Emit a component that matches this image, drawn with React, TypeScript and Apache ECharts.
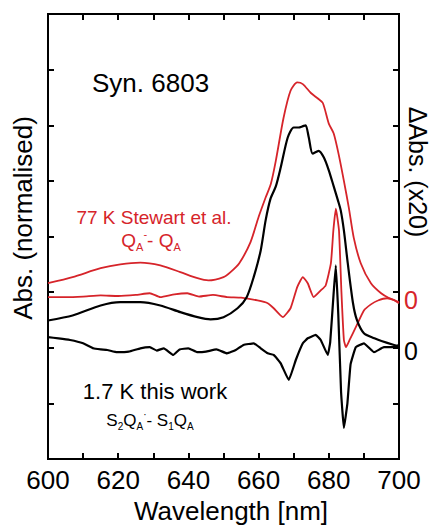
import React, { useEffect, useRef } from 'react';
import * as echarts from 'echarts';

// Red: 77 K absorption (Stewart et al.)
const redAbsWl = [600, 607, 615, 620.6, 626.3, 632, 637.7, 642.6, 645.7, 650, 652, 654.5, 657.7, 660, 662, 663.5, 664.9, 667.1, 669.1, 671, 672.6, 674.9, 676.9, 678.3, 680, 681.4, 682.9, 684.3, 685.7, 687.1, 689.1, 692, 694.9, 697, 700];
const redAbs = [3.16, 3.27, 3.43, 3.5, 3.53, 3.48, 3.36, 3.25, 3.21, 3.27, 3.36, 3.52, 3.9, 4.35, 4.7, 4.95, 5.36, 6.13, 6.62, 6.77, 6.74, 6.58, 6.48, 6.4, 6.03, 5.85, 5.45, 5.0, 4.52, 3.98, 3.52, 3.16, 2.98, 2.9, 2.82];

// Black: 1.7 K absorption (this work)
const blackAbsWl = [600, 607, 615, 620.6, 626.3, 632, 637.7, 642.6, 646.3, 650, 654, 656.6, 658.6, 660.6, 662, 663.4, 664.9, 666.3, 668.3, 670, 671.4, 672.5, 673.4, 674.3, 675.4, 677.1, 678.6, 680, 681.4, 682.6, 683.4, 684.3, 685.4, 686.9, 688, 690, 693, 695, 698.6, 700];
const blackAbs = [2.49, 2.58, 2.76, 2.82, 2.82, 2.76, 2.64, 2.55, 2.51, 2.55, 2.71, 2.91, 3.27, 3.75, 4.29, 4.68, 4.9, 5.24, 5.78, 5.96, 5.96, 5.98, 6.0, 5.78, 5.49, 5.54, 5.42, 5.19, 4.9, 4.65, 4.47, 4.11, 3.52, 2.8, 2.5, 2.26, 2.17, 2.12, 2.05, 2.03];

// Red: 77 K QA- - QA difference (x20)
const redDiffWl = [600, 605, 610, 615, 620, 625, 629, 632, 636, 639.7, 643, 647, 651, 655, 659.7, 662.6, 664.3, 666.9, 669.1, 671, 672.6, 674, 675.7, 677.7, 679.1, 680.6, 681.3, 682, 682.9, 683.6, 684.3, 684.9, 686, 687.7, 690, 692, 694, 696.6, 698.5, 700];
const redDiff = [2.91, 2.91, 2.92, 2.94, 2.93, 2.95, 2.98, 2.91, 2.96, 2.98, 2.92, 2.95, 2.91, 2.9, 2.85, 2.8, 2.71, 2.55, 2.71, 3.09, 3.27, 3.16, 2.91, 3.03, 3.12, 3.52, 4.11, 4.5, 4.11, 3.0, 2.14, 2.01, 2.15, 2.37, 2.67, 2.78, 2.85, 2.89, 2.86, 2.8];

// Black: 1.7 K S2QA- - S1QA difference (x20)
const blackDiffWl = [600, 603, 606.3, 610, 612.9, 615, 616.9, 619.7, 623, 626.3, 629, 631, 633, 635.7, 637.5, 640, 642.6, 645, 648, 651, 653.5, 655.7, 658.6, 660.6, 662.6, 664.3, 666.3, 668.6, 670.6, 672.6, 674, 676.3, 677.7, 679.7, 680.4, 681.4, 682, 682.7, 683.5, 684.3, 685.3, 686.2, 687.7, 690, 692.9, 695.7, 698.6, 700];
const blackDiff = [2.19, 2.17, 2.14, 2.08, 1.99, 1.97, 1.96, 1.92, 1.93, 1.99, 2.01, 1.95, 1.99, 1.87, 1.97, 1.99, 1.92, 1.93, 1.97, 1.9, 1.96, 2.05, 2.08, 1.99, 1.9, 1.87, 1.72, 1.42, 1.78, 2.08, 2.17, 2.23, 2.14, 1.87, 2.1, 3.0, 3.48, 2.6, 1.2, 0.56, 1.0, 1.7, 2.01, 2.08, 1.92, 2.01, 2.01, 2.05];

const xMin = 600;
const xMax = 700;
const yMin = 0;
const yMax = 8;

const RED = '#d6242a';
const FONT = '"Liberation Sans", Arial, Helvetica, sans-serif';

const W = 433;
const H = 527;

const zip = (xs: number[], ys: number[]) => xs.map((x, i) => [x, ys[i]]);

export default function App() {
  const ref = useRef<HTMLDivElement>(null);
  useEffect(() => {
    if (!ref.current) return;
    const chart = echarts.init(ref.current, undefined, { renderer: 'svg' });
    const mkLine = () => ({ show: true, onZero: false, lineStyle: { color: '#000', width: 2 } });
    const mkTick = () => ({ show: true, inside: true, length: 6, lineStyle: { color: '#000', width: 2 } });
    const xAxisBase = (position: 'top' | 'bottom', showLabel: boolean) => ({
      type: 'value' as const,
      position,
      min: xMin,
      max: xMax,
      interval: 10,
      axisLine: mkLine(),
      axisTick: mkTick(),
      splitLine: { show: false },
      axisLabel: showLabel
        ? {
            show: true,
            margin: 8,
            fontSize: 26,
            fontFamily: FONT,
            color: '#000',
            formatter: (v: number) => (v % 20 === 0 ? String(v) : ''),
          }
        : { show: false },
    });
    const yAxisBase = (position: 'left' | 'right') => ({
      type: 'value' as const,
      position,
      min: yMin,
      max: yMax,
      interval: 1,
      axisLine: mkLine(),
      axisTick: mkTick(),
      splitLine: { show: false },
      axisLabel: { show: false },
    });
    const line = (data: number[][], color: string, width: number, smooth: number) => ({
      type: 'line',
      xAxisIndex: 0,
      yAxisIndex: 0,
      data,
      showSymbol: false,
      symbol: 'none',
      smooth,
      lineStyle: { color, width },
      z: 2,
    });
    chart.setOption({
      animation: false,
      grid: { left: 48, right: 34, top: 14, bottom: 68, show: true, borderColor: '#000', borderWidth: 2 },
      xAxis: [xAxisBase('bottom', true), xAxisBase('top', false)],
      yAxis: [yAxisBase('left'), yAxisBase('right')],
      series: [
        line(zip(redAbsWl, redAbs), RED, 1.8, 0.25),
        line(zip(redDiffWl, redDiff), RED, 1.8, 0.15),
        line(zip(blackAbsWl, blackAbs), '#000', 2.2, 0.25),
        line(zip(blackDiffWl, blackDiff), '#000', 2.2, 0.1),
        {
          type: 'line',
          xAxisIndex: 1,
          yAxisIndex: 1,
          data: [[xMin, yMin], [xMax, yMax]],
          showSymbol: false,
          symbol: 'none',
          lineStyle: { opacity: 0, width: 0 },
          silent: true,
        },
      ],
      graphic: [
        {
          type: 'text',
          x: 23,
          y: 218,
          rotation: Math.PI / 2,
          style: { text: 'Abs. (normalised)', fontSize: 26, fontFamily: FONT, fill: '#000', align: 'center', verticalAlign: 'middle' },
        },
        {
          type: 'text',
          x: 418,
          y: 172,
          rotation: -Math.PI / 2,
          style: { text: 'ΔAbs. (x20)', fontSize: 25, fontFamily: FONT, fill: '#000', align: 'center', verticalAlign: 'middle' },
        },
        {
          type: 'text',
          x: 231,
          y: 511,
          style: { text: 'Wavelength [nm]', fontSize: 26, fontFamily: FONT, fill: '#000', align: 'center', verticalAlign: 'middle' },
        },
        {
          type: 'text',
          x: 92,
          y: 83,
          style: { text: 'Syn. 6803', fontSize: 26, fontFamily: FONT, fill: '#000', align: 'left', verticalAlign: 'middle' },
        },
        {
          type: 'text',
          x: 154,
          y: 217,
          style: { text: '77 K Stewart et al.', fontSize: 19, fontFamily: FONT, fill: RED, align: 'center', verticalAlign: 'middle' },
        },
        {
          type: 'text',
          x: 151,
          y: 240,
          style: {
            text: '{m|Q}{s|A}{p|-}{m|- Q}{s|A}',
            fontFamily: FONT,
            fill: RED,
            align: 'center',
            verticalAlign: 'middle',
            rich: {
              m: { fontSize: 19, fontFamily: FONT, fill: RED, color: RED, lineHeight: 24, verticalAlign: 'middle' },
              s: { fontSize: 11, fontFamily: FONT, fill: RED, color: RED, lineHeight: 24, verticalAlign: 'bottom' },
              p: { fontSize: 11, fontFamily: FONT, fill: RED, color: RED, lineHeight: 24, verticalAlign: 'top' },
            },
          },
        },
        {
          type: 'text',
          x: 155,
          y: 391,
          style: { text: '1.7 K this work', fontSize: 22, fontFamily: FONT, fill: '#000', align: 'center', verticalAlign: 'middle' },
        },
        {
          type: 'text',
          x: 150,
          y: 420,
          style: {
            text: '{m|S}{s|2}{m|Q}{s|A}{p|·}{m|- S}{s|1}{m|Q}{s|A}',
            fontFamily: FONT,
            fill: '#000',
            align: 'center',
            verticalAlign: 'middle',
            rich: {
              m: { fontSize: 17, fontFamily: FONT, fill: '#000', color: '#000', lineHeight: 22, verticalAlign: 'middle' },
              s: { fontSize: 10, fontFamily: FONT, fill: '#000', color: '#000', lineHeight: 22, verticalAlign: 'bottom' },
              p: { fontSize: 10, fontFamily: FONT, fill: '#000', color: '#000', lineHeight: 22, verticalAlign: 'top' },
            },
          },
        },
        {
          type: 'text',
          x: 404,
          y: 300,
          style: { text: '0', fontSize: 25, fontFamily: FONT, fill: RED, align: 'left', verticalAlign: 'middle' },
        },
        {
          type: 'text',
          x: 404,
          y: 351,
          style: { text: '0', fontSize: 25, fontFamily: FONT, fill: '#000', align: 'left', verticalAlign: 'middle' },
        },
      ],
    });
    return () => chart.dispose();
  }, []);
  return <div ref={ref} style={{ width: W, height: H, position: 'absolute', left: 0, top: 0 }} />;
}
